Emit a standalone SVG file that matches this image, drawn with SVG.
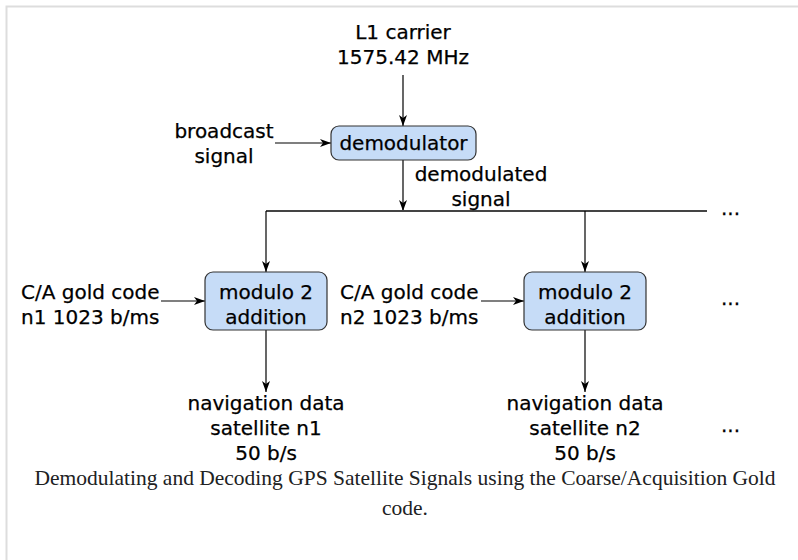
<svg xmlns="http://www.w3.org/2000/svg" width="798" height="560" viewBox="0 0 798 560">
  <style>
    .lbl { font-family: "DejaVu Sans", sans-serif; font-size: 20px; fill: #000; stroke: #000; stroke-width: 0.25; }
    .mid { text-anchor: middle; }
    .box { fill: #c6dcf7; stroke: #333; stroke-width: 1.2; }
    .wire { fill: none; stroke: #000; stroke-width: 1.2; }
    .bus { fill: none; stroke: #444; stroke-width: 2; }
    .cap { font-family: "Liberation Serif", serif; font-size: 21.5px; fill: #202122; text-anchor: middle; }
  </style>
  <defs>
    <marker id="arrow" viewBox="-12 -6 14 12" markerWidth="14" markerHeight="12" refX="0" refY="0" orient="auto" markerUnits="userSpaceOnUse">
      <path d="M0,0 L-11,-4 L-8,0 L-11,4 Z" fill="#000"/>
    </marker>
  </defs>

  <!-- frame -->
  <rect x="6.5" y="6.5" width="800" height="560" fill="#fff" stroke="#ddd" stroke-width="2"/>

  <!-- connectors -->
  <g id="connectors">
    <line class="wire" x1="403" y1="75" x2="403" y2="126" marker-end="url(#arrow)"/>
    <line class="wire" x1="275" y1="143" x2="331" y2="143" marker-end="url(#arrow)"/>
    <line class="wire" x1="403" y1="160" x2="403" y2="211" marker-end="url(#arrow)"/>
    <line class="bus" x1="266" y1="211" x2="707" y2="211"/>
    <line class="wire" x1="266" y1="211" x2="266" y2="272" marker-end="url(#arrow)"/>
    <line class="wire" x1="585" y1="211" x2="585" y2="272" marker-end="url(#arrow)"/>
    <line class="wire" x1="161" y1="301" x2="205" y2="301" marker-end="url(#arrow)"/>
    <line class="wire" x1="481" y1="301" x2="524" y2="301" marker-end="url(#arrow)"/>
    <line class="wire" x1="266" y1="330" x2="266" y2="392" marker-end="url(#arrow)"/>
    <line class="wire" x1="585" y1="330" x2="585" y2="392" marker-end="url(#arrow)"/>
  </g>

  <g id="carrier">
    <text class="lbl mid" x="403" y="39">L1 carrier</text>
    <text class="lbl mid" x="403" y="64">1575.42 MHz</text>
  </g>

  <g id="broadcast">
    <text class="lbl mid" x="224" y="138">broadcast</text>
    <text class="lbl mid" x="224" y="163">signal</text>
  </g>

  <g id="demodulator">
    <rect class="box" x="331" y="126" width="145" height="34" rx="8"/>
    <text class="lbl mid" x="403.5" y="150">demodulator</text>
  </g>

  <g id="demodulated">
    <text class="lbl mid" x="481" y="181">demodulated</text>
    <text class="lbl mid" x="481" y="206">signal</text>
  </g>

  <g id="more-top">
    <text class="lbl" x="721" y="215">...</text>
  </g>

  <g id="code1">
    <text class="lbl" x="21" y="299">C/A gold code</text>
    <text class="lbl" x="21" y="324">n1 1023 b/ms</text>
  </g>

  <g id="mod1">
    <rect class="box" x="205" y="272" width="122" height="58" rx="8"/>
    <text class="lbl mid" x="266" y="299">modulo 2</text>
    <text class="lbl mid" x="266" y="324">addition</text>
  </g>

  <g id="code2">
    <text class="lbl" x="340" y="299">C/A gold code</text>
    <text class="lbl" x="340" y="324">n2 1023 b/ms</text>
  </g>

  <g id="mod2">
    <rect class="box" x="524" y="272" width="122" height="58" rx="8"/>
    <text class="lbl mid" x="585" y="299">modulo 2</text>
    <text class="lbl mid" x="585" y="324">addition</text>
  </g>

  <g id="more-mid">
    <text class="lbl" x="721" y="305">...</text>
  </g>

  <g id="nav1">
    <text class="lbl mid" x="266" y="410">navigation data</text>
    <text class="lbl mid" x="266" y="435">satellite n1</text>
    <text class="lbl mid" x="266" y="460">50 b/s</text>
  </g>

  <g id="nav2">
    <text class="lbl mid" x="585" y="410">navigation data</text>
    <text class="lbl mid" x="585" y="435">satellite n2</text>
    <text class="lbl mid" x="585" y="460">50 b/s</text>
  </g>

  <g id="more-bottom">
    <text class="lbl" x="721" y="432">...</text>
  </g>

  <g id="caption">
    <text class="cap" x="405" y="485">Demodulating and Decoding GPS Satellite Signals using the Coarse/Acquisition Gold</text>
    <text class="cap" x="405" y="515">code.</text>
  </g>
</svg>
